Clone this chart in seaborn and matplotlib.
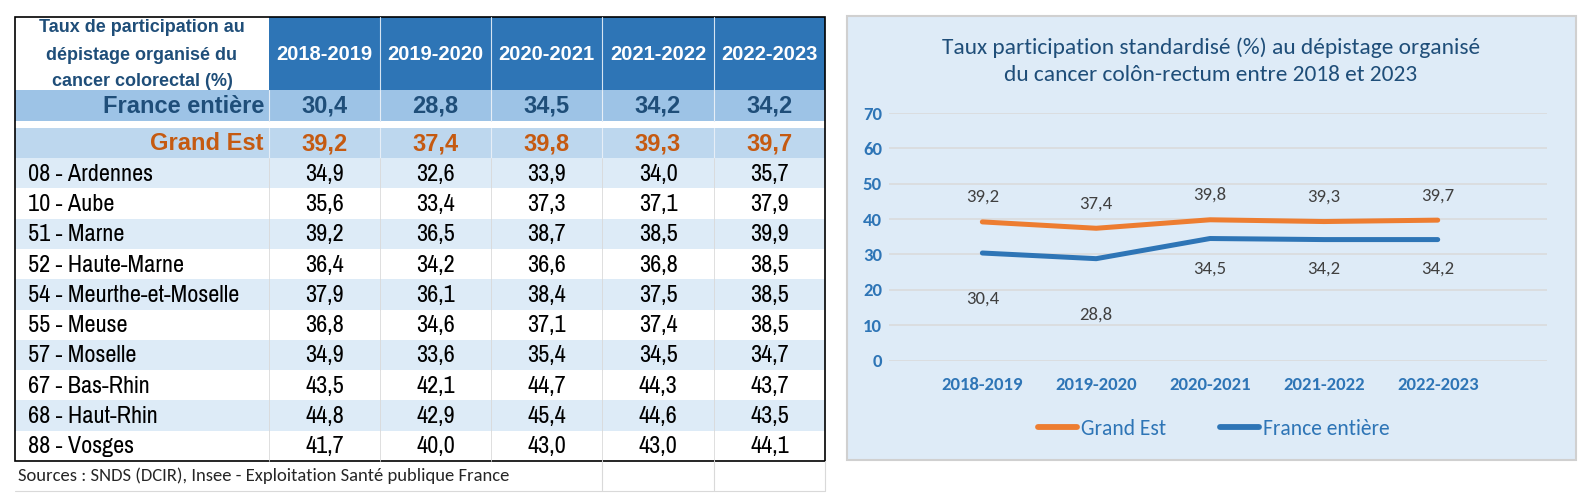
import matplotlib
matplotlib.use('Agg')
import matplotlib.pyplot as plt
from matplotlib import font_manager as fm
from matplotlib.patches import Rectangle
from matplotlib.lines import Line2D
import pandas as pd
import seaborn as sns

# --- data ---
periods = ['2018-2019', '2019-2020', '2020-2021', '2021-2022', '2022-2023']
france = [30.4, 28.8, 34.5, 34.2, 34.2]
grand_est = [39.2, 37.4, 39.8, 39.3, 39.7]

departements = ['08 - Ardennes', '10 - Aube', '51 - Marne', '52 - Haute-Marne',
                '54 - Meurthe-et-Moselle', '55 - Meuse', '57 - Moselle',
                '67 - Bas-Rhin', '68 - Haut-Rhin', '88 - Vosges']
dep_values = [
    [34.9, 32.6, 33.9, 34.0, 35.7],
    [35.6, 33.4, 37.3, 37.1, 37.9],
    [39.2, 36.5, 38.7, 38.5, 39.9],
    [36.4, 34.2, 36.6, 36.8, 38.5],
    [37.9, 36.1, 38.4, 37.5, 38.5],
    [36.8, 34.6, 37.1, 37.4, 38.5],
    [34.9, 33.6, 35.4, 34.5, 34.7],
    [43.5, 42.1, 44.7, 44.3, 43.7],
    [44.8, 42.9, 45.4, 44.6, 43.5],
    [41.7, 40.0, 43.0, 43.0, 44.1],
]

head_lines = ['Taux de participation au', 'dépistage organisé du', 'cancer colorectal (%)']
source_txt = 'Sources : SNDS (DCIR), Insee - Exploitation Santé publique France'
title_lines = ['Taux participation standardisé (%) au dépistage organisé',
               'du cancer colôn-rectum entre 2018 et 2023']

sns.set_theme(style='white')

installed = {f.name for f in fm.fontManager.ttflist}


def pick(*cands):
    return [c for c in cands if c in installed][:1] + ['DejaVu Sans']


ARIAL = pick('Liberation Sans', 'Arimo')
NARROW = pick('Liberation Sans Narrow', 'Arial Narrow', 'Pragati Narrow',
              'Roboto Condensed', 'Archivo Narrow', 'PT Sans Narrow', 'Liberation Sans')
CAL = pick('Carlito', 'Calibri', 'Lato')
plt.rcParams['font.family'] = CAL

BLUE = '#2E75B6'
ORANGE = '#ED7D31'
DARK = '#1F4E79'


def fmt(v):
    return f'{v:.1f}'.replace('.', ',')


fig = plt.figure(figsize=(15.96, 4.93), dpi=100)
bg = fig.add_axes([0, 0, 1, 1])
bg.set_xlim(0, 1596)
bg.set_ylim(493, 0)
bg.axis('off')

# ---------------- table ----------------
cols = [15, 269, 380, 491, 602, 714, 825]
left, right = cols[0], cols[-1]
centers = [(cols[i] + cols[i + 1]) / 2 for i in range(1, 6)]

# header
bg.add_patch(Rectangle((cols[1], 17), right - cols[1], 73, fc=BLUE, ec='none'))
for x in cols[2:-1]:
    bg.plot([x, x], [17, 90], color='#D6E4F2', lw=0.8)
for c, p in zip(centers, periods):
    bg.text(c, 54, p, ha='center', va='center', color='white', fontsize=14.5,
            fontweight='bold', family=ARIAL)
for y, t in zip([28, 55, 82], head_lines):
    bg.text(142, y, t, ha='center', va='center', color=DARK, fontsize=13,
            fontweight='bold', family=ARIAL)

# France entière / Grand Est rows
special = [(90, 31, '#9DC3E6', DARK, 'France entière', france),
           (128, 30, '#BDD7EE', '#C55A11', 'Grand Est', grand_est)]
for y0, h, fc, tc, name, vals in special:
    bg.add_patch(Rectangle((left, y0), right - left, h, fc=fc, ec='none'))
    for x in cols[1:-1]:
        bg.plot([x, x], [y0, y0 + h], color='#E6EEF7', lw=0.8)
    bg.text(264, y0 + h / 2 + 1, name, ha='right', va='center', color=tc,
            fontsize=17, fontweight='bold', family=ARIAL)
    for c, v in zip(centers, vals):
        bg.text(c, y0 + h / 2 + 1, fmt(v), ha='center', va='center', color=tc,
                fontsize=17, fontweight='bold', family=ARIAL)

# departements
row_h = 30.3
y0 = 158
for i, (name, vals) in enumerate(zip(departements, dep_values)):
    ry = y0 + i * row_h
    fc = '#DDEBF7' if i % 2 == 0 else 'white'
    bg.add_patch(Rectangle((left, ry), right - left, row_h, fc=fc, ec='none'))
    for x in cols[1:-1]:
        bg.plot([x, x], [ry, ry + row_h], color='#D9D9D9', lw=0.6)
    bg.text(28, ry + row_h / 2 + 1, name, ha='left', va='center', color='black',
            fontsize=19, family=NARROW)
    for c, v in zip(centers, vals):
        bg.text(c, ry + row_h / 2 + 1, fmt(v), ha='center', va='center',
                color='black', fontsize=19, family=NARROW)

tab_bottom = y0 + len(departements) * row_h
bg.add_patch(Rectangle((left, 17), right - left, tab_bottom - 17, fill=False,
                       ec='black', lw=1.2))

# sources row
for x in [602, 714, 825]:
    bg.plot([x, x], [tab_bottom, 491], color='#D9D9D9', lw=0.8)
bg.plot([left, right], [491, 491], color='#D9D9D9', lw=0.8)
bg.text(18, 476, source_txt, ha='left', va='center', color='#262626',
        fontsize=13.4, family=CAL)

# ---------------- chart panel ----------------
bg.add_patch(Rectangle((847, 16), 1576 - 847, 460 - 16, fc='#DEEBF7',
                       ec='#D0D0D0', lw=1.5))
for y, t in zip([48, 75], title_lines):
    bg.text(1211, y, t, ha='center', va='center', color=DARK, fontsize=16.8,
            family=CAL)

y_top, y_zero = 113, 360.5
ax = fig.add_axes([889 / 1596, (493 - y_zero) / 493,
                   (1547 - 889) / 1596, (y_zero - y_top) / 493])
ax.set_facecolor('none')

df = pd.DataFrame({
    'period': periods * 2,
    'taux': grand_est + france,
    'serie': ['Grand Est'] * len(periods) + ['France entière'] * len(periods),
})
pal = {'Grand Est': ORANGE, 'France entière': BLUE}
sns.lineplot(data=df, x='period', y='taux', hue='serie', palette=pal,
             sort=False, lw=3.6, legend=False, ax=ax)
for ln in ax.lines:
    ln.set_solid_capstyle('round')
    ln.set_solid_joinstyle('round')

ax.set_xlim(-0.82, 4.96)
ax.set_ylim(0, 70)
ax.set_yticks(range(0, 71, 10))
ax.grid(axis='y', color='#D9D9D9', lw=1.1)
ax.grid(axis='x', visible=False)
ax.set_axisbelow(True)
for s in ax.spines.values():
    s.set_visible(False)
ax.set_xlabel('')
ax.set_ylabel('')
ax.tick_params(axis='x', length=0, pad=12, labelsize=13.5, labelcolor=BLUE)
ax.tick_params(axis='y', length=0, pad=5, labelsize=13.5, labelcolor=BLUE)
for lab in ax.get_xticklabels() + ax.get_yticklabels():
    lab.set_fontweight('bold')

# data labels
fr_lbl_off = [-33, -40, -22, -21, -21]
for i, v in enumerate(grand_est):
    ax.annotate(fmt(v), (i, v), xytext=(0, 18), textcoords='offset points',
                ha='center', va='center', fontsize=13.5, color='#404040')
for i, (v, off) in enumerate(zip(france, fr_lbl_off)):
    ax.annotate(fmt(v), (i, v), xytext=(0, off), textcoords='offset points',
                ha='center', va='center', fontsize=13.5, color='#404040')

handles = [Line2D([], [], color=ORANGE, lw=4.2, solid_capstyle='round'),
           Line2D([], [], color=BLUE, lw=4.2, solid_capstyle='round')]
leg = fig.legend(handles, ['Grand Est', 'France entière'], loc='center',
                 bbox_to_anchor=(1214 / 1596, (493 - 429) / 493), ncol=2,
                 frameon=False, fontsize=15.5, handlelength=1.8,
                 handletextpad=0.2, columnspacing=2.5)
for t in leg.get_texts():
    t.set_color(BLUE)

fig.savefig('out.png', dpi=100)
